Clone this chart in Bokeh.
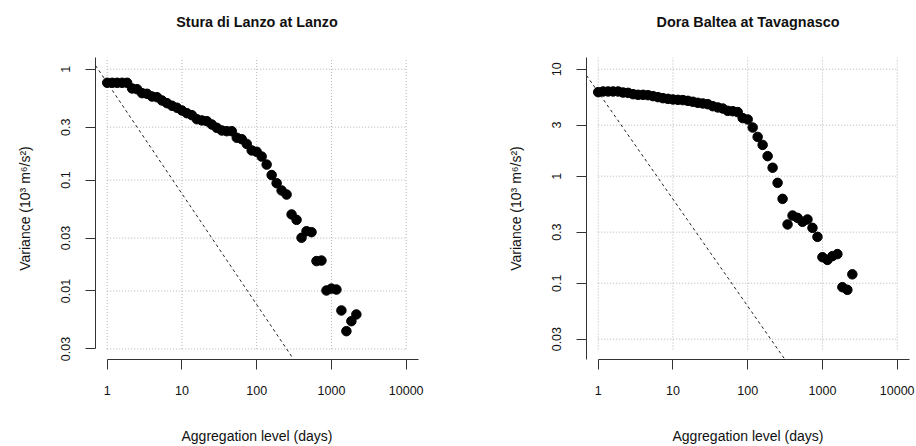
from bokeh.plotting import figure
from bokeh.layouts import row
from bokeh.models import FixedTicker, CustomJSTickFormatter, Range1d
from bokeh.embed import file_html
from bokeh.resources import INLINE

# ---------------- data ----------------
agg_left = [1, 1.166, 1.359, 1.585, 1.848, 2.154, 2.512, 2.929, 3.415, 3.981,
            4.642, 5.412, 6.310, 7.356, 8.577, 10, 11.66, 13.59, 15.85, 18.48,
            21.54, 25.12, 29.29, 34.15, 39.81, 46.42, 54.12, 63.10, 73.56, 85.77,
            100, 116.6, 135.9, 158.5, 184.8, 215.4, 251.2, 292.9, 341.5, 398.1,
            464.2, 541.2, 631.0, 735.6, 857.7, 1000, 1166, 1359, 1585, 1848, 2154]
var_left = [0.754, 0.754, 0.754, 0.754, 0.754, 0.670, 0.660, 0.608, 0.600, 0.567,
            0.559, 0.522, 0.494, 0.468, 0.449, 0.424, 0.401, 0.385, 0.354, 0.345,
            0.340, 0.317, 0.296, 0.280, 0.276, 0.276, 0.241, 0.234, 0.212, 0.185,
            0.180, 0.163, 0.138, 0.111, 0.0938, 0.0806, 0.0741, 0.0490, 0.0438, 0.0302,
            0.0346, 0.0339, 0.0186, 0.0188, 0.0101, 0.0105, 0.0103, 0.00667, 0.00434, 0.00534,
            0.00614]

agg_right = agg_left + [2512]
var_right = [6.10, 6.19, 6.19, 6.19, 6.19, 6.05, 6.01, 5.84, 5.76, 5.76,
             5.72, 5.60, 5.48, 5.36, 5.28, 5.21, 5.17, 5.14, 5.06, 4.96,
             4.85, 4.78, 4.71, 4.51, 4.39, 4.29, 4.08, 4.05, 3.97, 3.49,
             3.39, 2.85, 2.33, 1.96, 1.54, 1.20, 0.867, 0.614, 0.354, 0.429,
             0.408, 0.375, 0.394, 0.329, 0.271, 0.175, 0.165, 0.179, 0.187, 0.0918,
             0.0867, 0.121]

x_ticks = [1, 10, 100, 1000, 10000]
x_labels = ["1", "10", "100", "1000", "10000"]
y_ticks_left = [0.003, 0.01, 0.03, 0.1, 0.3, 1]
y_labels_left = ["0.03", "0.01", "0.03", "0.1", "0.3", "1"]
y_ticks_right = [0.03, 0.1, 0.3, 1, 3, 10]
y_labels_right = ["0.03", "0.1", "0.3", "1", "3", "10"]

titles = ["Stura di Lanzo at Lanzo", "Dora Baltea at Tavagnasco"]
x_title = "Aggregation level (days)"
y_title = "Variance (10\u00b3 m\u2076/s\u00b2)"

FONT = "Liberation Sans"

fmt_code = """
for (let i = 0; i < vals.length; i++) {
  if (Math.abs(Math.log10(tick) - Math.log10(vals[i])) < 1e-6) { return labs[i]; }
}
return "";
"""


def make_panel(title, xs, ys, yticks, ylabels, yrange, grid_ybottom, left_border,
               right_border, ybounded):
    xr = Range1d(0.6974, 14612)
    yr = Range1d(*yrange)
    p = figure(width=458, height=446, x_axis_type="log", y_axis_type="log",
               x_range=xr, y_range=yr, output_backend="svg", toolbar_location=None,
               min_border_left=left_border, min_border_right=right_border,
               min_border_top=57, min_border_bottom=87)
    p.outline_line_color = None
    p.background_fill_color = "white"
    p.border_fill_color = "white"
    p.xgrid.visible = False
    p.ygrid.visible = False

    # dotted grid over the tick span
    p.segment(x0=x_ticks, x1=x_ticks, y0=[grid_ybottom] * len(x_ticks),
              y1=[yr.end] * len(x_ticks), line_color="#b4b4b4", line_width=1,
              line_dash="1 2")
    p.segment(x0=[x_ticks[0]] * len(yticks), x1=[x_ticks[-1]] * len(yticks),
              y0=yticks, y1=yticks, line_color="#b4b4b4", line_width=1,
              line_dash="1 2")

    # reference line of slope -1 through the first point
    lx = [xr.start, xr.end]
    ly = [ys[0] * xs[0] / v for v in lx]
    p.line(lx, ly, line_color="#222222", line_width=1, line_dash="3 3")

    p.scatter(xs, ys, size=9.5, color="black", marker="circle")

    for ax, ticks, labs in ((p.xaxis[0], x_ticks, x_labels), (p.yaxis[0], yticks, ylabels)):
        ax.ticker = FixedTicker(ticks=ticks, minor_ticks=[])
        ax.formatter = CustomJSTickFormatter(args=dict(vals=ticks, labs=labs), code=fmt_code)
        ax.major_tick_out = 10
        ax.major_tick_in = 0
        ax.minor_tick_out = 0
        ax.minor_tick_in = 0
        ax.axis_line_color = "#333333"
        ax.major_tick_line_color = "#333333"
        ax.major_label_text_font = FONT
        ax.major_label_text_font_size = "12.5px"
        ax.major_label_text_color = "#111111"
        ax.axis_label_text_font = FONT
        ax.axis_label_text_font_size = "14px"
        ax.axis_label_text_font_style = "normal"
        ax.axis_label_text_color = "#111111"

    p.xaxis[0].bounds = (x_ticks[0], xr.end)
    p.xaxis[0].major_label_standoff = 16
    p.xaxis[0].axis_label = x_title
    p.xaxis[0].axis_label_standoff = 30

    if ybounded:
        p.yaxis[0].bounds = (yticks[0], yr.end)
    p.yaxis[0].major_label_orientation = "vertical"
    p.yaxis[0].major_label_standoff = 15
    p.yaxis[0].axis_label = y_title
    p.yaxis[0].axis_label_standoff = 26

    # a trailing blank line lifts the title towards the top edge
    p.title.text = title + "\n "
    p.title.align = "center"
    p.title.vertical_align = "top"
    p.title.text_font = FONT
    p.title.text_font_size = "14.4px"
    p.title.text_font_style = "bold"
    p.title.text_color = "#111111"
    p.title.standoff = 20
    return p


p1 = make_panel(titles[0], agg_left, var_left, y_ticks_left, y_labels_left,
                (0.00241, 1.275), 0.003, 95, 40, True)
p2 = make_panel(titles[1], agg_right, var_right, y_ticks_right, y_labels_right,
                (0.01936, 12.86), 0.024, 128, 7, False)

layout = row(p1, p2)
open("out.html", "w").write(file_html(layout, INLINE))
